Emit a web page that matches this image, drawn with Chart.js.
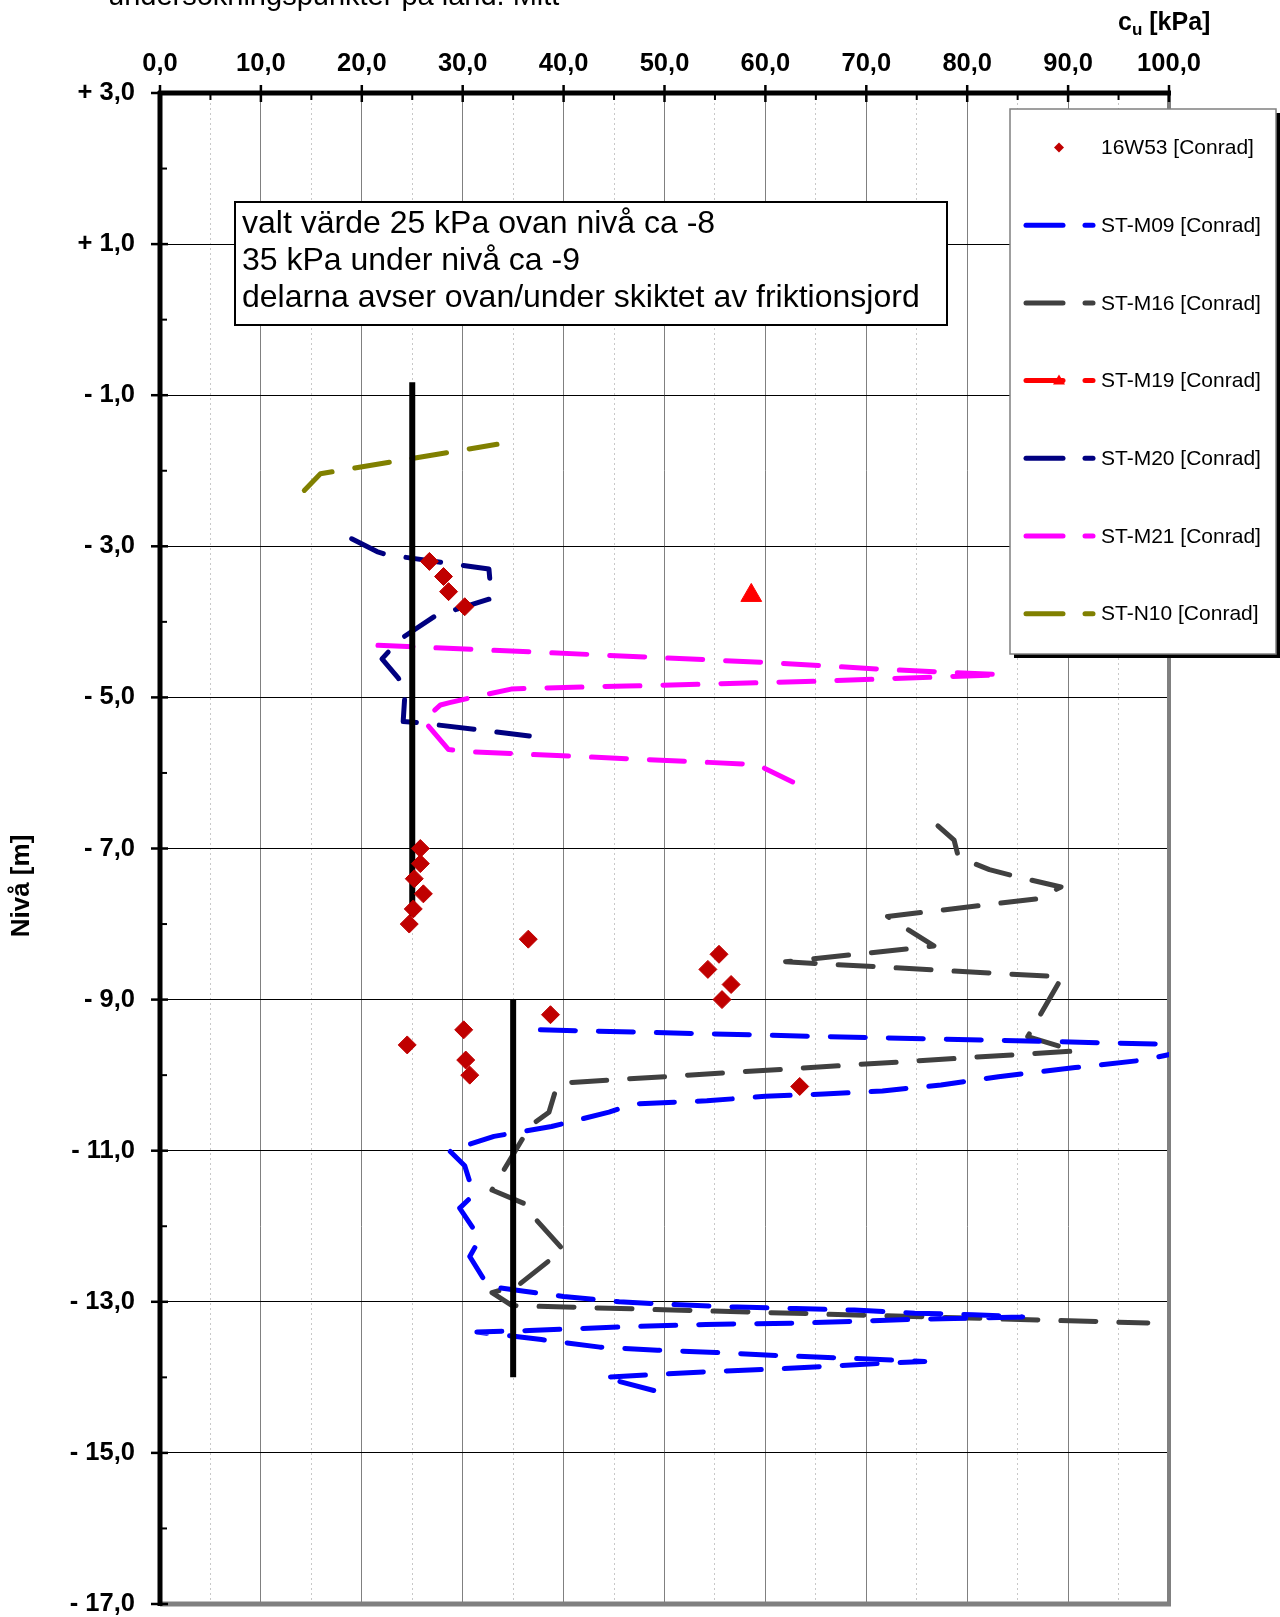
<!DOCTYPE html>
<html>
<head>
<meta charset="utf-8">
<script src="https://cdn.jsdelivr.net/npm/chart.js@4.4.0/dist/chart.umd.min.js"></script>
<style>
html,body{margin:0;padding:0;background:#fff;}
canvas{display:block;}
</style>
</head>
<body>
<canvas id="c" width="1280" height="1617"></canvas>
<script>
// ---------- tick labels ----------
const xTickValues = [0, 10, 20, 30, 40, 50, 60, 70, 80, 90, 100];
const xTickLabels = ['0,0', '10,0', '20,0', '30,0', '40,0', '50,0', '60,0', '70,0', '80,0', '90,0', '100,0'];
const yTickValues = [3, 1, -1, -3, -5, -7, -9, -11, -13, -15, -17];
const yTickLabels = ['+ 3,0', '+ 1,0', '- 1,0', '- 3,0', '- 5,0', '- 7,0', '- 9,0', '- 11,0', '- 13,0', '- 15,0', '- 17,0'];

// ---------- texts ----------
const titleText = 'undersökningspunkter på land. Mitt';
const xAxisTitle = ['c', 'u', ' [kPa]'];
const yAxisTitle = 'Nivå [m]';
const noteLines = ['valt värde 25 kPa ovan nivå ca -8', '35 kPa under nivå ca -9', 'delarna avser ovan/under skiktet av friktionsjord'];

// ---------- series: 16W53 (points) ----------
const w53_cu    = [26.7, 28.1, 28.6, 30.2, 25.8, 25.8, 25.2, 26.1, 25.1, 24.7, 36.5, 55.4, 54.3, 56.6, 55.7, 38.7, 30.1, 24.5, 30.3, 30.7, 63.4];
const w53_level = [-3.2, -3.4, -3.6, -3.8, -7.0, -7.2, -7.4, -7.6, -7.8, -8.0, -8.2, -8.4, -8.6, -8.8, -9.0, -9.2, -9.4, -9.6, -9.8, -10.0, -10.15];

// ---------- ST-M09 ----------
const m09_cu    = [37.7, 66.0, 99.8, 104.5, 97.5, 90.7, 83.1, 77.4, 71.6, 65.8, 60.0, 54.2, 47.0, 44.5, 38.8, 33.1, 28.7, 30.2, 31.1, 29.7, 31.1, 31.6, 30.7, 32.5, 32.8, 36.1, 40.0, 45.5, 51.5, 57.2, 63.0, 68.8, 74.8, 80.6, 85.5, 75.3, 63.7, 54.1, 46.2, 36.6, 31.4, 37.8, 43.6, 49.3, 55.1, 61.1, 66.9, 75.8, 70.7, 61.1, 55.1, 49.3, 44.0, 49.4];
const m09_level = [-9.40, -9.49, -9.59, -9.60, -9.80, -9.90, -10.02, -10.13, -10.21, -10.25, -10.28, -10.34, -10.38, -10.49, -10.68, -10.81, -11.00, -11.20, -11.58, -11.76, -12.04, -12.19, -12.40, -12.79, -12.80, -12.86, -12.93, -13.00, -13.04, -13.07, -13.09, -13.11, -13.15, -13.17, -13.20, -13.23, -13.28, -13.30, -13.33, -13.38, -13.40, -13.50, -13.60, -13.64, -13.67, -13.71, -13.74, -13.79, -13.82, -13.89, -13.92, -13.96, -14.00, -14.19];

// ---------- ST-M16 ----------
const m16_cu    = [77.1, 78.7, 79.1, 80.9, 82.2, 84.5, 89.3, 87.0, 72.1, 76.7, 62.0, 89.4, 86.0, 90.7, 40.4, 39.3, 38.55, 36.7, 32.9, 36.1, 36.3, 39.95, 35.6, 32.9, 34.9, 97.9];
const m16_level = [-6.70, -6.89, -7.10, -7.21, -7.28, -7.36, -7.51, -7.665, -7.90, -8.29, -8.50, -8.70, -9.49, -9.68, -10.10, -10.16, -10.49, -10.67, -11.52, -11.70, -11.77, -12.31, -12.77, -12.88, -13.05, -13.28];

// ---------- ST-M19 ----------
const m19_cu    = [58.6];
const m19_level = [-3.65];

// ---------- ST-M20 ----------
const m20_cu    = [19.0, 21.5, 22.4, 32.6, 32.85, 27.3, 23.8, 22.0, 23.6, 24.3, 24.1, 26.0, 36.6];
const m20_level = [-2.90, -3.07, -3.11, -3.30, -3.69, -3.92, -4.23, -4.49, -4.74, -4.90, -5.32, -5.34, -5.51];

// ---------- ST-M21 ----------
const m21_cu    = [21.6, 37.2, 48.9, 60.4, 71.9, 83.4, 77.0, 66.6, 55.0, 46.2, 36.4, 34.8, 30.6, 28.7, 27.8, 26.1, 28.6, 31.0, 42.7, 54.4, 59.2, 62.7];
const m21_level = [-4.31, -4.40, -4.47, -4.54, -4.63, -4.70, -4.73, -4.78, -4.82, -4.85, -4.88, -4.89, -5.01, -5.07, -5.10, -5.30, -5.69, -5.72, -5.79, -5.86, -5.89, -6.12];

// ---------- ST-N10 ----------
const n10_cu    = [14.3, 15.9, 33.4];
const n10_level = [-2.26, -2.04, -1.65];

// ---------- chosen design values ----------
const design1_cu    = [25, 25];
const design1_level = [-0.83, -7.9];
const design2_cu    = [35, 35];
const design2_level = [-9.0, -14.0];

// ---------- build ----------
const FONT = "'Liberation Sans', Arial, Helvetica, sans-serif";
const pts = (xs, ys) => xs.map((x, i) => ({ x: x, y: ys[i] }));
const DASH = [35, 23];

function dashed(label, xs, ys, color) {
  return {
    label: label, data: pts(xs, ys), showLine: true,
    borderColor: color, backgroundColor: color, borderWidth: 5,
    borderDash: DASH, borderCapStyle: 'round', borderJoinStyle: 'round',
    pointRadius: 0, pointHoverRadius: 0, tension: 0, clip: 0, order: 2,
    legendKind: 'line'
  };
}
function solid(xs, ys) {
  return {
    label: '', data: pts(xs, ys), showLine: true,
    borderColor: '#000', backgroundColor: '#000', borderWidth: 6,
    borderCapStyle: 'butt', pointRadius: 0, pointHoverRadius: 0, order: 1,
    legendKind: 'none'
  };
}

const datasets = [
  { label: '16W53 [Conrad]', data: pts(w53_cu, w53_level), showLine: false,
    pointStyle: 'rectRot', pointRadius: 9, pointHoverRadius: 9,
    backgroundColor: '#C00000', borderColor: '#C00000', borderWidth: 1, order: 0, legendKind: 'diamond' },
  dashed('ST-M09 [Conrad]', m09_cu, m09_level, '#0000FF'),
  dashed('ST-M16 [Conrad]', m16_cu, m16_level, '#404040'),
  { label: 'ST-M19 [Conrad]', data: pts(m19_cu, m19_level), showLine: true,
    pointStyle: 'triangle', pointRadius: 12, pointHoverRadius: 12,
    backgroundColor: '#FF0000', borderColor: '#FF0000', borderWidth: 1, order: 0, legendKind: 'triangle' },
  dashed('ST-M20 [Conrad]', m20_cu, m20_level, '#000080'),
  dashed('ST-M21 [Conrad]', m21_cu, m21_level, '#FF00FF'),
  dashed('ST-N10 [Conrad]', n10_cu, n10_level, '#808000'),
  solid(design1_cu, design1_level),
  solid(design2_cu, design2_level)
];

// ---------- decorations plugin ----------
const deco = {
  id: 'deco',
  beforeDatasetsDraw(chart) {
    const ctx = chart.ctx, a = chart.chartArea;
    const xs = chart.scales.x, ys = chart.scales.y;
    ctx.save();
    // frame: right & bottom gray
    ctx.strokeStyle = '#808080';
    ctx.lineWidth = 4;
    ctx.beginPath(); ctx.moveTo(a.right, a.top); ctx.lineTo(a.right, a.bottom); ctx.stroke();
    ctx.lineWidth = 5;
    ctx.beginPath(); ctx.moveTo(a.left, a.bottom); ctx.lineTo(a.right + 2, a.bottom); ctx.stroke();
    // top + left black axes
    ctx.strokeStyle = '#000';
    ctx.lineWidth = 5;
    ctx.beginPath(); ctx.moveTo(a.left - 2, a.top); ctx.lineTo(a.right + 2, a.top); ctx.stroke();
    ctx.beginPath(); ctx.moveTo(a.left, a.top - 2); ctx.lineTo(a.left, a.bottom + 2); ctx.stroke();
    // x ticks
    for (let v = 0; v <= 100; v += 5) {
      const px = xs.getPixelForValue(v);
      ctx.beginPath();
      if (v % 10 === 0) { ctx.lineWidth = 2.5; ctx.moveTo(px, a.top - 8); ctx.lineTo(px, a.top + 9); }
      else { ctx.lineWidth = 2; ctx.moveTo(px, a.top); ctx.lineTo(px, a.top + 7); }
      ctx.stroke();
    }
    // y ticks
    for (let v = -17; v <= 3; v += 1) {
      const py = ys.getPixelForValue(v);
      ctx.beginPath();
      if (Math.abs(v % 2) === 1) { ctx.lineWidth = 2.5; ctx.moveTo(a.left - 9, py); ctx.lineTo(a.left + 8, py); }
      else { ctx.lineWidth = 2; ctx.moveTo(a.left, py); ctx.lineTo(a.left + 7, py); }
      ctx.stroke();
    }
    ctx.restore();
  },
  afterDraw(chart) {
    const ctx = chart.ctx;
    ctx.save();
    // title (partly cut at top)
    ctx.fillStyle = '#000';
    ctx.textBaseline = 'alphabetic';
    ctx.textAlign = 'left';
    ctx.font = '29px ' + FONT;
    ctx.fillText(titleText, 108, 5);

    // x axis title c_u [kPa]
    ctx.font = 'bold 25px ' + FONT;
    let xx = 1118;
    ctx.fillText(xAxisTitle[0], xx, 30);
    xx += ctx.measureText(xAxisTitle[0]).width;
    ctx.font = 'bold 17px ' + FONT;
    ctx.fillText(xAxisTitle[1], xx, 35);
    xx += ctx.measureText(xAxisTitle[1]).width;
    ctx.font = 'bold 25px ' + FONT;
    ctx.fillText(xAxisTitle[2], xx, 30);

    // y axis title
    ctx.save();
    ctx.translate(22, 886);
    ctx.rotate(-Math.PI / 2);
    ctx.textAlign = 'center';
    ctx.textBaseline = 'middle';
    ctx.font = 'bold 26px ' + FONT;
    ctx.fillText(yAxisTitle, 0, 0);
    ctx.restore();

    // note box
    ctx.fillStyle = '#fff';
    ctx.fillRect(235, 202, 712, 123);
    ctx.strokeStyle = '#000';
    ctx.lineWidth = 2;
    ctx.strokeRect(235, 202, 712, 123);
    ctx.fillStyle = '#000';
    ctx.font = '32px ' + FONT;
    ctx.textBaseline = 'middle';
    noteLines.forEach((t, i) => ctx.fillText(t, 242, 224 + i * 37));

    // legend
    const lx = 1010, ly = 109, lw = 266, lh = 545;
    ctx.fillStyle = '#000';
    ctx.fillRect(lx + 4, ly + 4, lw, lh);
    ctx.fillStyle = '#fff';
    ctx.fillRect(lx, ly, lw, lh);
    ctx.strokeStyle = '#808080';
    ctx.lineWidth = 1.5;
    ctx.strokeRect(lx, ly, lw, lh);
    const items = chart.data.datasets.filter(d => d.legendKind !== 'none');
    ctx.font = '21px ' + FONT;
    ctx.textBaseline = 'middle';
    ctx.textAlign = 'left';
    items.forEach((d, i) => {
      const cy = 147.5 + i * 77.7;
      const col = d.borderColor;
      ctx.fillStyle = col; ctx.strokeStyle = col;
      if (d.legendKind === 'diamond') {
        ctx.beginPath();
        ctx.moveTo(1059, cy - 5); ctx.lineTo(1064, cy); ctx.lineTo(1059, cy + 5); ctx.lineTo(1054, cy);
        ctx.closePath(); ctx.fill();
      } else {
        ctx.lineWidth = 5; ctx.lineCap = 'round';
        ctx.beginPath(); ctx.moveTo(1026, cy); ctx.lineTo(1063, cy); ctx.stroke();
        ctx.beginPath(); ctx.moveTo(1085, cy); ctx.lineTo(1093, cy); ctx.stroke();
        if (d.legendKind === 'triangle') {
          ctx.beginPath();
          ctx.moveTo(1059, cy - 6); ctx.lineTo(1065, cy + 4); ctx.lineTo(1053, cy + 4);
          ctx.closePath(); ctx.fill();
        }
      }
      ctx.fillStyle = '#000';
      ctx.fillText(d.label, 1101, cy + 1);
    });
    ctx.restore();
  }
};

new Chart(document.getElementById('c'), {
  type: 'scatter',
  data: { datasets: datasets },
  options: {
    responsive: false,
    animation: false,
    events: [],
    layout: { padding: { top: 0, left: 0, right: 111, bottom: 13 } },
    plugins: { legend: { display: false }, title: { display: false }, tooltip: { enabled: false } },
    scales: {
      x: {
        type: 'linear', position: 'top', min: 0, max: 100,
        afterFit: s => { s.height = 93; s.paddingLeft = 0; s.paddingRight = 0; },
        ticks: {
          stepSize: 5, autoSkip: false, maxRotation: 0, minRotation: 0, padding: 14,
          color: '#000', font: { family: FONT, size: 25.5, weight: 'bold' },
          callback: v => { const i = xTickValues.indexOf(Math.round(v)); return (i >= 0 && Math.abs(v - Math.round(v)) < 1e-6) ? xTickLabels[i] : ''; }
        },
        grid: {
          drawTicks: false, lineWidth: 1,
          color: c => (c.tick && Math.round(c.tick.value) % 10 === 0) ? '#808080' : '#c8c8c8'
        },
        border: {
          display: false,
          dash: c => (c.tick && Math.round(c.tick.value) % 10 !== 0) ? [2, 3] : []
        }
      },
      y: {
        type: 'linear', position: 'left', min: -17, max: 3,
        afterFit: s => { s.width = 160; s.paddingTop = 0; s.paddingBottom = 0; },
        ticks: {
          stepSize: 2, autoSkip: false, padding: 25,
          color: '#000', font: { family: FONT, size: 25.5, weight: 'bold' },
          callback: v => { const i = yTickValues.indexOf(Math.round(v)); return i >= 0 ? yTickLabels[i] : ''; }
        },
        grid: { drawTicks: false, lineWidth: 1, color: '#000' },
        border: { display: false }
      }
    }
  },
  plugins: [deco]
});
</script>
</body>
</html>
